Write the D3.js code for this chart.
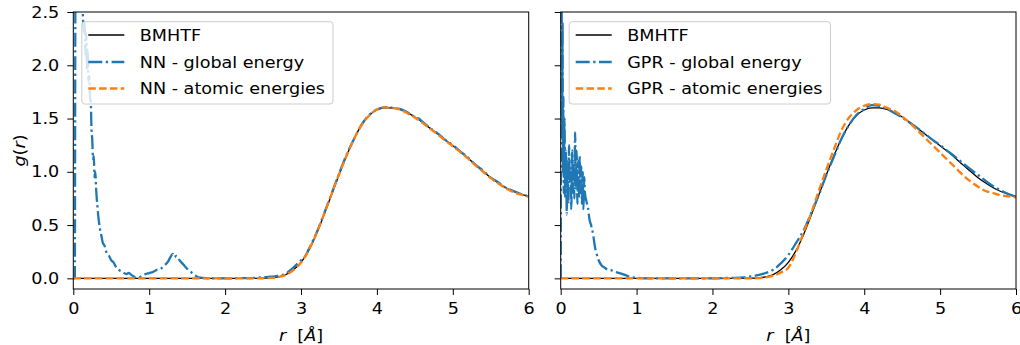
<!DOCTYPE html>
<html>
<head>
<meta charset="utf-8">
<script src="https://cdn.jsdelivr.net/npm/d3@7"></script>
<style>
  body { margin: 0; background: #fff; }
  text { font-family: "DejaVu Sans", sans-serif; }
</style>
</head>
<body>
<script>
// ----- Data -----

const xTicks = [0, 1, 2, 3, 4, 5, 6];
const yTicks = [0.0, 0.5, 1.0, 1.5, 2.0, 2.5];

// reference curve, same in both panels
const rRef = [0, 2.4, 2.5, 2.6, 2.7, 2.8, 2.9, 3.0, 3.1, 3.2, 3.3, 3.4, 3.5, 3.6, 3.7, 3.8, 3.9, 4.0,
    4.1, 4.2, 4.3, 4.4, 4.5, 4.6, 4.7, 4.8, 4.9, 5.0, 5.1, 5.2, 5.3, 5.4, 5.5, 5.6, 5.7, 5.8, 5.9, 6.0];
const gRef = [0, 0, 0.001, 0.004, 0.013, 0.035, 0.08, 0.15, 0.26, 0.41, 0.59, 0.78, 0.97, 1.15, 1.31, 1.44, 1.53, 1.58,
    1.60, 1.60, 1.585, 1.555, 1.515, 1.465, 1.41, 1.355, 1.30, 1.245, 1.19, 1.13, 1.065, 1.005, 0.945, 0.895, 0.85, 0.815, 0.79, 0.77];

// NN - atomic energies
const rNnAtomic = rRef;
const gNnAtomic = [0, 0, 0.001, 0.004, 0.012, 0.033, 0.078, 0.148, 0.262, 0.415, 0.595, 0.785, 0.975, 1.15, 1.31, 1.44, 1.53, 1.585,
    1.605, 1.60, 1.585, 1.55, 1.51, 1.46, 1.405, 1.35, 1.295, 1.24, 1.185, 1.125, 1.06, 1.0, 0.94, 0.89, 0.845, 0.81, 0.785, 0.765];

// NN - global energy
const rNnGlobal = [0, 0.02, 0.03, 0.11, 0.125, 0.14, 0.15, 0.16, 0.17, 0.18, 0.19, 0.20, 0.21, 0.22, 0.23,
    0.24, 0.25, 0.26, 0.27, 0.28, 0.29, 0.30, 0.31, 0.32, 0.33, 0.35, 0.37, 0.39, 0.41, 0.43, 0.45, 0.47, 0.50,
    0.53, 0.56, 0.60, 0.65, 0.70, 0.73, 0.77, 0.82, 0.86, 0.90, 0.95, 1.00, 1.05, 1.10, 1.15, 1.20, 1.25, 1.28,
    1.31, 1.33, 1.36, 1.40, 1.45, 1.50, 1.55, 1.60, 1.65, 1.70, 1.80, 2.00, 2.20, 2.40,
    2.5, 2.6, 2.7, 2.8, 2.9, 3.0, 3.05, 3.1, 3.2, 3.3, 3.4, 3.5, 3.6, 3.7, 3.8, 3.9, 4.0, 4.1, 4.15, 4.2,
    4.3, 4.4, 4.5, 4.55, 4.6, 4.7, 4.8, 4.9, 5.0, 5.1, 5.2, 5.3, 5.4, 5.5, 5.6, 5.7, 5.8, 5.9, 6.0];
const gNnGlobal = [0, 0, 3.5, 3.0, 2.5, 2.3, 2.4, 2.1, 2.3, 1.95, 2.15, 1.85, 1.9, 1.7, 1.66,
    1.4, 1.3, 1.12, 1.15, 0.95, 1.0, 0.85, 0.74, 0.66, 0.58, 0.47, 0.4, 0.33, 0.31, 0.26, 0.22, 0.21, 0.17,
    0.15, 0.11, 0.08, 0.06, 0.04, 0.05, 0.03, 0.01, 0.01, 0.02, 0.04, 0.05, 0.06, 0.08, 0.09, 0.12, 0.16, 0.2,
    0.23, 0.2, 0.21, 0.17, 0.13, 0.09, 0.06, 0.03, 0.01, 0.005, 0, 0, 0.002, 0.005,
    0.01, 0.015, 0.022, 0.045, 0.1, 0.17, 0.2, 0.27, 0.42, 0.6, 0.79, 0.98, 1.16, 1.31, 1.445, 1.535, 1.585, 1.605, 1.61, 1.6,
    1.59, 1.56, 1.515, 1.5, 1.47, 1.41, 1.36, 1.3, 1.25, 1.19, 1.135, 1.065, 1.01, 0.945, 0.9, 0.85, 0.82, 0.79, 0.77];

// GPR - global energy
const rGprGlobal = [0, 0.008, 0.015, 0.02, 0.025, 0.03, 0.035, 0.04, 0.05, 0.06, 0.07, 0.08, 0.09, 0.10,
    0.11, 0.12, 0.13, 0.14, 0.15, 0.16, 0.17, 0.18, 0.19, 0.20, 0.21, 0.22, 0.23, 0.24, 0.25, 0.26, 0.27,
    0.28, 0.29, 0.30, 0.31, 0.32, 0.34, 0.36, 0.38, 0.40, 0.43, 0.45, 0.47, 0.50, 0.54, 0.58, 0.62, 0.67,
    0.72, 0.80, 0.87, 0.93, 1.00, 1.10, 2.0, 2.2, 2.4,
    2.5, 2.6, 2.7, 2.8, 2.9, 3.0, 3.1, 3.2, 3.3, 3.4, 3.5, 3.6, 3.7, 3.8, 3.9, 4.0, 4.1, 4.2, 4.3, 4.4,
    4.5, 4.6, 4.7, 4.8, 4.9, 5.0, 5.1, 5.2, 5.3, 5.4, 5.5, 5.6, 5.7, 5.8, 5.9, 6.0];
const gGprGlobal = [0, 2.9, 2.2, 1.3, 2.4, 1.0, 1.7, 0.8, 1.5, 0.75, 1.2, 0.6, 1.1, 0.7,
    1.25, 0.9, 1.0, 0.65, 1.2, 0.8, 1.1, 0.75, 1.37, 0.85, 1.2, 0.7, 1.1, 0.75, 1.15, 0.8, 1.05,
    0.7, 1.0, 0.65, 0.95, 0.8, 0.72, 0.66, 0.55, 0.5, 0.4, 0.3, 0.24, 0.17, 0.12, 0.1, 0.08, 0.075,
    0.06, 0.044, 0.025, 0.012, 0.006, 0, 0, 0.004, 0.01,
    0.018, 0.03, 0.05, 0.08, 0.14, 0.22, 0.33, 0.45, 0.61, 0.78, 0.97, 1.14, 1.31, 1.44, 1.535, 1.59, 1.625, 1.62, 1.59, 1.55,
    1.51, 1.46, 1.41, 1.355, 1.30, 1.25, 1.195, 1.14, 1.08, 1.025, 0.97, 0.915, 0.865, 0.825, 0.79, 0.765];

// GPR - atomic energies
const rGprAtomic = rRef;
const gGprAtomic = [0, 0, 0, 0.002, 0.008, 0.025, 0.055, 0.10, 0.24, 0.43, 0.61, 0.82, 1.02, 1.21, 1.39, 1.51, 1.58, 1.62,
    1.635, 1.63, 1.60, 1.57, 1.52, 1.46, 1.39, 1.32, 1.25, 1.18, 1.11, 1.04, 0.97, 0.91, 0.86, 0.82, 0.80, 0.78, 0.77, 0.76];

const leftLabels = ["BMHTF", "NN - global energy", "NN - atomic energies"];
const rightLabels = ["BMHTF", "GPR - global energy", "GPR - atomic energies"];

// ----- Styles -----

const styles = [
    { color: "#000000", width: 1.3, dash: null },
    { color: "#1f77b4", width: 2.3, dash: "14,3.5,2.3,3.5" },
    { color: "#ff7f0e", width: 2.3, dash: "7.5,3.3" }
];

const W = 1020, H = 345;
const plotTop = 12, plotBottom = 289;
const fontSize = 16;
const sx = 1.1;   // glyphs in the reference are a bit wider than tall

const svg = d3.select("body").append("svg")
    .attr("width", W)
    .attr("height", H);

const y = d3.scaleLinear().domain([-0.1, 2.5]).range([plotBottom, plotTop]);

function zip(rs, gs) {
    return rs.map((r, i) => [r, gs[i]]);
}

function drawPanel(id, x0, x1, series, labels, showYLabels) {
    const x = d3.scaleLinear().domain([0, 6]).range([x0, x1]);
    const g = svg.append("g").attr("id", id);

    g.append("clipPath").attr("id", id + "-clip")
        .append("rect")
        .attr("x", x0).attr("y", plotTop)
        .attr("width", x1 - x0).attr("height", plotBottom - plotTop);

    const line = d3.line()
        .x(d => x(d[0]))
        .y(d => y(d[1]))
        .curve(d3.curveMonotoneX);

    const plot = g.append("g").attr("clip-path", `url(#${id}-clip)`);
    series.forEach((s, i) => {
        plot.append("path")
            .attr("d", line(s))
            .attr("fill", "none")
            .attr("stroke", styles[i].color)
            .attr("stroke-width", styles[i].width)
            .attr("stroke-dasharray", styles[i].dash)
            .attr("stroke-linejoin", "round");
    });

    // axes
    const xAxis = d3.axisBottom(x).tickValues(xTicks).tickFormat(d3.format("d"))
        .tickSize(6).tickPadding(8).tickSizeOuter(0);
    const gx = g.append("g")
        .attr("transform", `translate(0,${plotBottom})`)
        .call(xAxis);
    const yAxis = d3.axisLeft(y).tickValues(yTicks).tickFormat(showYLabels ? d3.format(".1f") : "")
        .tickSize(6).tickPadding(8).tickSizeOuter(0);
    const gy = g.append("g")
        .attr("transform", `translate(${x0},0)`)
        .call(yAxis);
    [gx, gy].forEach(a => {
        a.select(".domain").remove();
        a.selectAll("line").attr("stroke", "#000").attr("stroke-width", 1);
        a.selectAll("text").attr("fill", "#000").style("font-size", fontSize + "px")
            .style("font-family", "'DejaVu Sans', sans-serif")
            .attr("transform", `scale(${sx},1)`);
    });
    gy.selectAll("text").attr("x", -14 / sx);

    g.append("rect")
        .attr("x", x0).attr("y", plotTop)
        .attr("width", x1 - x0).attr("height", plotBottom - plotTop)
        .attr("fill", "none")
        .attr("stroke", "#000")
        .attr("stroke-width", 1);

    // x label: r [Å]
    const xl = g.append("text")
        .attr("transform", `translate(${(x0 + x1) / 2},341) scale(${sx},1)`)
        .attr("text-anchor", "middle")
        .style("white-space", "pre")
        .style("font-size", fontSize + "px");
    xl.append("tspan").attr("font-style", "italic").text("r");
    xl.append("tspan").text("  [");
    xl.append("tspan").attr("font-style", "italic").text("Å");
    xl.append("tspan").text("]");

    // legend
    const lx = x0 + 8.5, ly = 21.7;
    const legend = g.append("g").attr("transform", `translate(${lx},${ly})`);
    const box = legend.append("rect")
        .attr("rx", 3).attr("ry", 3)
        .attr("height", 82.3)
        .attr("fill", "#fff")
        .attr("fill-opacity", 0.8)
        .attr("stroke", "#cccccc")
        .attr("stroke-width", 1);
    const rowY = [13.3, 40.3, 66.8];
    let maxW = 0;
    labels.forEach((lab, i) => {
        legend.append("line")
            .attr("x1", 6.5).attr("x2", 42.5)
            .attr("y1", rowY[i]).attr("y2", rowY[i])
            .attr("stroke", styles[i].color)
            .attr("stroke-width", styles[i].width)
            .attr("stroke-dasharray", styles[i].dash);
        const t = legend.append("text")
            .attr("transform", `translate(58,${rowY[i]}) scale(${sx},1)`)
            .attr("dy", "0.36em")
            .style("font-size", fontSize + "px")
            .text(lab);
        maxW = Math.max(maxW, t.node().getComputedTextLength() * sx);
    });
    box.attr("width", 58 + maxW + 8);
}

drawPanel("left", 73.3, 528.7,
    [zip(rRef, gRef), zip(rNnGlobal, gNnGlobal), zip(rNnAtomic, gNnAtomic)],
    leftLabels, true);
drawPanel("right", 560.7, 1016,
    [zip(rRef, gRef), zip(rGprGlobal, gGprGlobal), zip(rGprAtomic, gGprAtomic)],
    rightLabels, false);

// y label: g(r)
const yl = svg.append("text")
    .attr("transform", `translate(25,${(plotTop + plotBottom) / 2}) rotate(-90) scale(${sx},1)`)
    .attr("text-anchor", "middle")
    .style("font-size", fontSize + "px");
yl.append("tspan").attr("font-style", "italic").text("g");
yl.append("tspan").text("(");
yl.append("tspan").attr("font-style", "italic").text("r");
yl.append("tspan").text(")");
</script>
</body>
</html>
